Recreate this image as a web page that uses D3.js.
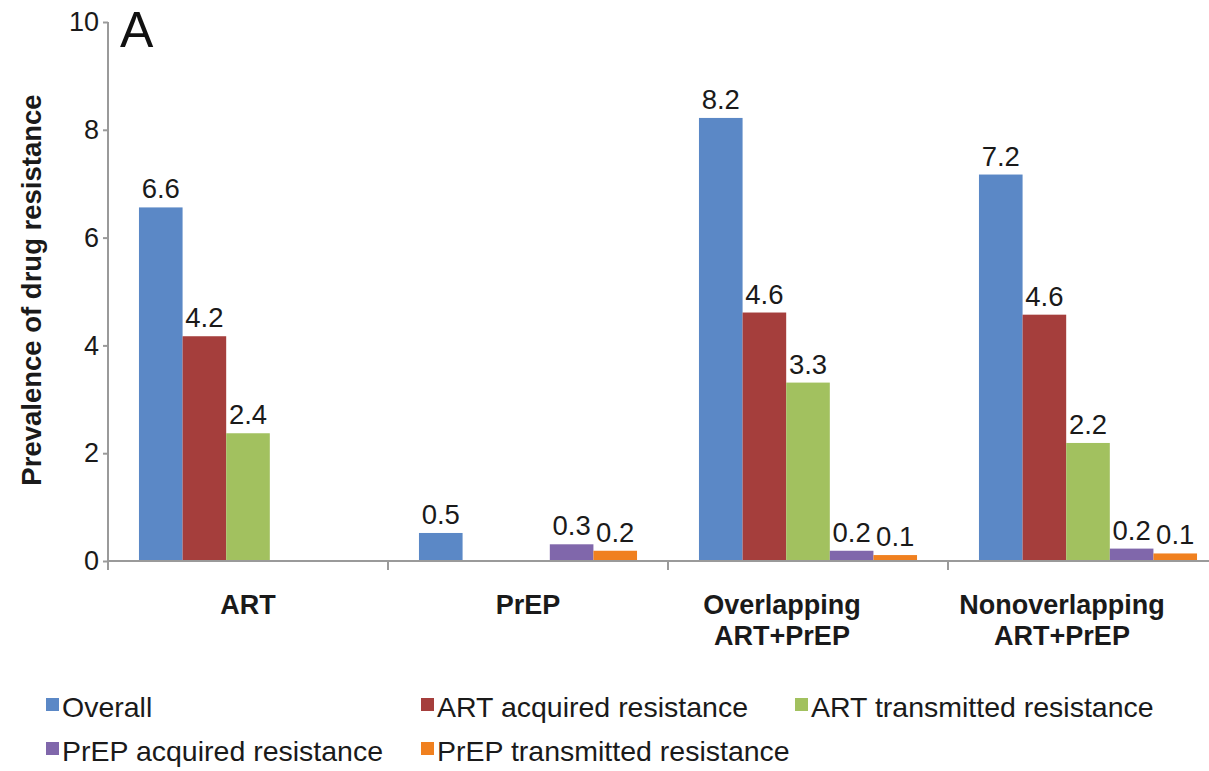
<!DOCTYPE html>
<html>
<head>
<meta charset="utf-8">
<script src="https://cdn.jsdelivr.net/npm/d3@7"></script>
<style>
  body { margin: 0; background: #fff; }
  svg { display: block; font-family: "Liberation Sans", Arial, sans-serif; }
</style>
</head>
<body>
<div id="chart"></div>
<script>
// data
var categories = [['ART'], ['PrEP'], ['Overlapping', 'ART+PrEP'], ['Nonoverlapping', 'ART+PrEP']];
var seriesNames = ['Overall', 'ART acquired resistance', 'ART transmitted resistance',
    'PrEP acquired resistance', 'PrEP transmitted resistance'];
var overall = [6.56, 0.52, 8.22, 7.17];
var artAcquired = [4.17, null, 4.61, 4.57];
var artTransmitted = [2.37, null, 3.31, 2.19];
var prepAcquired = [null, 0.31, 0.19, 0.23];
var prepTransmitted = [null, 0.19, 0.11, 0.14];
var yTicks = [0, 2, 4, 6, 8, 10];
var colors = ['#5b88c6', '#a53e3c', '#a2c15f', '#8067ab', '#f0801f'];

var series = [overall, artAcquired, artTransmitted, prepAcquired, prepTransmitted];

var W = 1209, H = 771;
var plot = { left: 108, right: 1228, top: 22, bottom: 561 };
var axisColor = '#9a9a9a';
var textColor = '#1a1a1a';

var svg = d3.select('#chart').append('svg')
    .attr('width', W)
    .attr('height', H);

var x0 = d3.scaleBand()
    .domain(d3.range(categories.length))
    .range([plot.left, plot.right])
    .paddingInner(0)
    .paddingOuter(0);

var x1 = d3.scaleBand()
    .domain(d3.range(series.length))
    .range([0, x0.bandwidth()])
    .paddingInner(0)
    .paddingOuter(0.71);

var y = d3.scaleLinear()
    .domain([0, 10])
    .range([plot.bottom, plot.top]);

var fmt = d3.format('.1f');

// bars + value labels
series.forEach(function (vals, si) {
    vals.forEach(function (v, ci) {
        if (v === null) return;
        var bx = x0(ci) + x1(si);
        svg.append('rect')
            .attr('x', bx)
            .attr('y', y(v))
            .attr('width', x1.bandwidth())
            .attr('height', y(0) - y(v))
            .attr('fill', colors[si]);
        svg.append('text')
            .attr('x', bx + x1.bandwidth() / 2)
            .attr('y', y(v) - 9)
            .attr('text-anchor', 'middle')
            .attr('font-size', 27.5)
            .attr('fill', textColor)
            .text(fmt(v));
    });
});

// y axis
var yAxis = svg.append('g')
    .attr('transform', 'translate(' + plot.left + ',0)')
    .call(d3.axisLeft(y).tickValues(yTicks).tickSize(5).tickPadding(4).tickFormat(d3.format('d')));
yAxis.select('.domain').remove();
yAxis.selectAll('line').attr('stroke', axisColor).attr('stroke-width', 2);
yAxis.selectAll('text')
    .attr('font-size', 27)
    .attr('fill', textColor)
    .attr('font-family', '"Liberation Sans", Arial, sans-serif');

svg.append('line')
    .attr('x1', plot.left).attr('x2', plot.left)
    .attr('y1', plot.top).attr('y2', plot.bottom + 9)
    .attr('stroke', axisColor).attr('stroke-width', 2);

// x axis
svg.append('line')
    .attr('x1', plot.left).attr('x2', plot.right)
    .attr('y1', plot.bottom).attr('y2', plot.bottom)
    .attr('stroke', axisColor).attr('stroke-width', 2);

d3.range(1, categories.length).forEach(function (i) {
    svg.append('line')
        .attr('x1', x0(i)).attr('x2', x0(i))
        .attr('y1', plot.bottom).attr('y2', plot.bottom + 9)
        .attr('stroke', axisColor).attr('stroke-width', 2);
});

categories.forEach(function (lines, ci) {
    // wrapped labels sit a little left of the band centre in the original
    var cx = x0(ci) + x0.bandwidth() / 2 + (lines.length > 1 ? -26 : 0);
    var t = svg.append('text')
        .attr('text-anchor', 'middle')
        .attr('font-size', 27)
        .attr('font-weight', 'bold')
        .attr('fill', textColor);
    lines.forEach(function (ln, li) {
        t.append('tspan')
            .attr('x', cx)
            .attr('y', 614 + li * 31)
            .text(ln);
    });
});

// axis title and panel letter
svg.append('text')
    .attr('transform', 'translate(41,290) rotate(-90)')
    .attr('text-anchor', 'middle')
    .attr('font-size', 27.5)
    .attr('font-weight', 'bold')
    .attr('fill', textColor)
    .text('Prevalence of drug resistance');

svg.append('text')
    .attr('x', 120)
    .attr('y', 47)
    .attr('font-size', 50)
    .attr('fill', '#111')
    .text('A');

// legend
var legX = [46, 421, 795];
var legY = [698, 742];
seriesNames.forEach(function (name, i) {
    var col = i < 3 ? i : i - 3;
    var row = i < 3 ? 0 : 1;
    var g = svg.append('g')
        .attr('transform', 'translate(' + legX[col] + ',' + legY[row] + ')');
    g.append('rect')
        .attr('width', 13).attr('height', 13)
        .attr('fill', colors[i]);
    g.append('text')
        .attr('x', 16)
        .attr('y', 19)
        .attr('font-size', 28.5)
        .attr('fill', textColor)
        .text(name);
});
</script>
</body>
</html>
